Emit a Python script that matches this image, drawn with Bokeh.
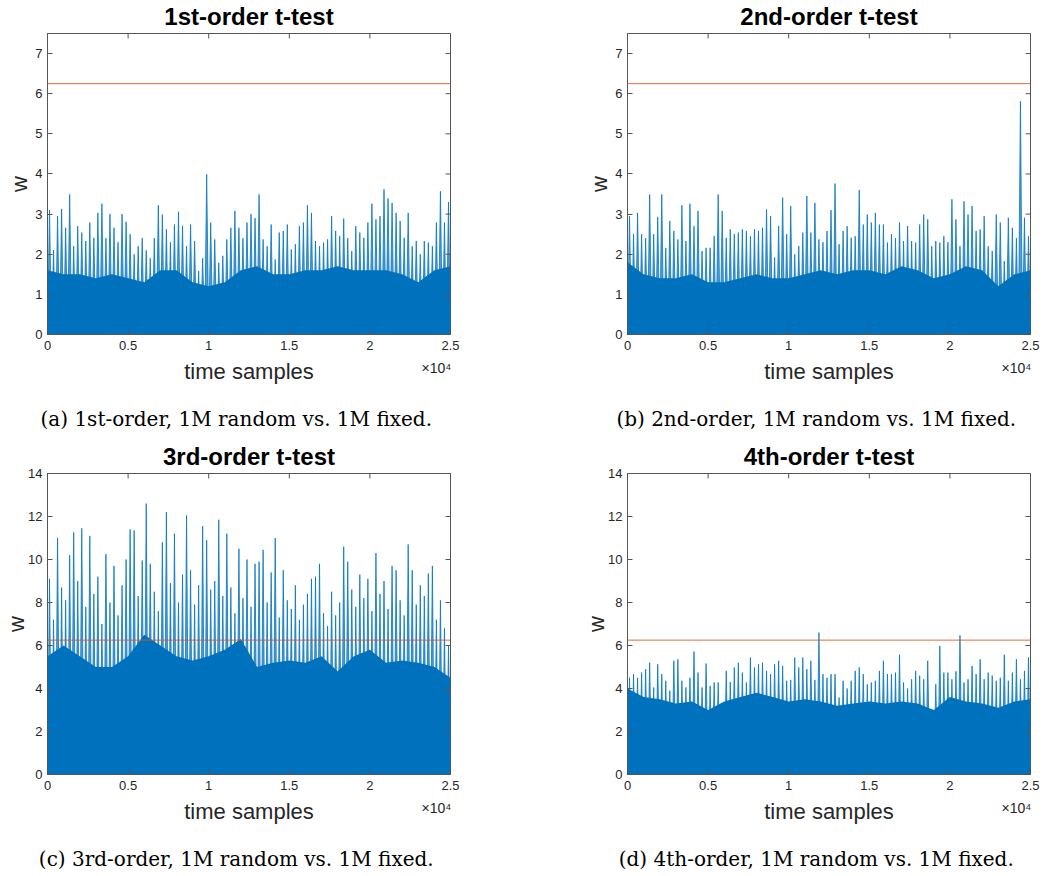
import numpy as np
from bokeh.plotting import figure
from bokeh.layouts import column, row
from bokeh.models import Range1d, FixedTicker, Span, LinearAxis
from bokeh.embed import file_html
from bokeh.resources import INLINE

# ---------------- data ----------------
n_samples = 25000
bin_width = 250            # peak values are given per 250-sample bin
body_step = 1000           # dense-body envelope is given every 1000 samples

peaks_1st = [3.1, 2.1, 2.95, 3.13, 2.66, 3.49, 2.2, 2.7, 2.54, 2.33,
             2.79, 2.41, 3.03, 3.26, 2.4, 3.0, 2.66, 2.3, 3.0, 2.81,
             2.5, 2.0, 2.2, 2.4, 2.1, 1.9, 2.4, 3.22, 2.99, 2.62,
             2.3, 2.74, 3.06, 2.7, 2.2, 2.74, 2.33, 1.58, 1.9, 3.99,
             2.79, 2.37, 1.79, 1.96, 2.37, 2.66, 3.08, 2.66, 2.4, 2.79,
             3.0, 2.9, 3.49, 2.37, 2.2, 2.74, 1.87, 2.54, 2.58, 2.74,
             2.12, 2.25, 2.7, 2.79, 3.22, 3.03, 2.33, 2.2, 2.29, 2.37,
             2.95, 2.58, 2.45, 2.89, 2.4, 2.08, 2.7, 2.54, 2.41, 2.79,
             3.26, 2.87, 2.95, 3.62, 3.39, 3.28, 3.03, 2.83, 2.41, 3.03,
             2.2, 2.33, 2.0, 2.33, 2.29, 2.2, 2.79, 3.57, 2.79, 3.3]
body_1st = [1.6, 1.5, 1.5, 1.4, 1.5, 1.4, 1.3, 1.6, 1.6, 1.3, 1.2, 1.3, 1.6,
            1.7, 1.5, 1.5, 1.6, 1.6, 1.7, 1.6, 1.6, 1.6, 1.5, 1.3, 1.6, 1.7]

peaks_2nd = [2.95, 2.5, 3.03, 2.5, 2.4, 3.49, 2.5, 2.93, 3.49, 2.16,
             2.83, 2.58, 2.37, 3.22, 2.33, 3.26, 2.7, 3.08, 2.08, 2.16,
             2.16, 2.45, 3.49, 3.08, 2.41, 2.62, 2.5, 2.54, 2.62, 2.58,
             2.45, 2.62, 2.58, 2.66, 3.12, 2.95, 1.92, 2.7, 3.41, 2.5,
             3.2, 2.0, 2.2, 2.54, 3.45, 2.54, 3.28, 2.37, 2.3, 2.58,
             3.1, 3.76, 2.25, 2.58, 2.7, 2.41, 2.45, 3.6, 2.74, 2.99,
             2.79, 3.03, 2.74, 2.74, 2.29, 2.5, 2.4, 2.79, 2.33, 2.7,
             2.33, 2.29, 2.74, 2.99, 2.87, 2.2, 2.33, 2.29, 2.45, 2.3,
             3.37, 2.87, 2.2, 3.32, 2.99, 3.2, 2.58, 2.62, 2.95, 2.2,
             2.08, 2.99, 2.79, 1.83, 2.91, 2.66, 2.4, 5.81, 2.91, 2.45]
body_2nd = [1.8, 1.5, 1.4, 1.4, 1.5, 1.3, 1.3, 1.4, 1.5, 1.4, 1.4, 1.5, 1.6,
            1.5, 1.6, 1.6, 1.5, 1.7, 1.6, 1.4, 1.5, 1.7, 1.6, 1.2, 1.5, 1.6]

peaks_3rd = [9.1, 7.2, 11.0, 8.7, 8.1, 10.2, 11.26, 9.0, 11.45, 7.8,
             11.1, 8.4, 9.2, 7.0, 10.25, 8.0, 9.7, 7.4, 8.8, 10.0,
             11.4, 11.35, 8.3, 9.95, 12.6, 9.8, 8.5, 7.6, 10.8, 12.2,
             8.9, 11.2, 8.0, 9.3, 12.05, 9.5, 7.9, 8.8, 11.55, 10.9,
             8.6, 9.0, 11.85, 8.3, 11.2, 8.7, 7.5, 10.5, 8.2, 10.0,
             7.8, 9.8, 9.9, 10.45, 8.0, 9.4, 11.0, 7.3, 9.5, 8.1,
             7.7, 8.8, 7.2, 7.9, 8.4, 9.1, 9.2, 9.8, 7.5, 6.9,
             8.5, 7.4, 8.0, 10.6, 9.9, 8.6, 7.8, 9.3, 8.2, 9.1,
             7.6, 10.3, 8.4, 9.0, 7.7, 9.7, 9.5, 8.1, 7.4, 10.7,
             9.5, 7.9, 8.8, 8.3, 9.35, 9.7, 7.2, 8.1, 6.8, 6.0]
body_3rd = [5.5, 6.0, 5.5, 5.0, 5.0, 5.5, 6.5, 6.0, 5.5, 5.3, 5.5, 5.8, 6.3,
            5.0, 5.2, 5.3, 5.2, 5.5, 4.8, 5.5, 5.8, 5.2, 5.3, 5.2, 5.0, 4.5]

peaks_4th = [4.5, 4.67, 4.5, 4.74, 4.9, 5.2, 4.05, 5.13, 4.67, 4.36,
             3.9, 5.29, 5.36, 4.36, 4.05, 4.5, 5.72, 4.74, 4.05, 5.16,
             4.12, 4.28, 4.28, 3.1, 4.82, 4.3, 4.98, 5.2, 4.74, 4.28,
             5.44, 4.98, 5.13, 5.2, 4.82, 4.67, 5.13, 5.29, 5.05, 4.36,
             4.4, 5.44, 4.98, 5.44, 4.9, 5.29, 4.4, 6.6, 4.67, 4.5,
             4.67, 4.67, 3.58, 4.36, 4.0, 4.36, 4.82, 4.98, 4.67, 4.2,
             4.28, 4.36, 4.82, 5.29, 4.67, 4.67, 4.74, 5.57, 4.28, 4.0,
             4.43, 4.82, 4.6, 4.43, 5.29, 3.04, 4.2, 5.98, 4.74, 4.74,
             4.43, 4.8, 6.47, 4.28, 4.43, 5.05, 4.67, 5.36, 4.43, 4.74,
             4.6, 4.36, 4.5, 5.57, 4.36, 4.74, 5.36, 4.43, 4.82, 5.44]
body_4th = [4.0, 3.6, 3.5, 3.3, 3.4, 3.0, 3.4, 3.6, 3.8, 3.6, 3.4, 3.5, 3.4,
            3.2, 3.3, 3.4, 3.3, 3.4, 3.3, 3.0, 3.6, 3.4, 3.3, 3.1, 3.4, 3.5]

threshold = 6.25

titles = ["1st-order t-test", "2nd-order t-test", "3rd-order t-test", "4th-order t-test"]
captions = ["(a) 1st-order, 1M random vs. 1M fixed.",
            "(b) 2nd-order, 1M random vs. 1M fixed.",
            "(c) 3rd-order, 1M random vs. 1M fixed.",
            "(d) 4th-order, 1M random vs. 1M fixed."]

xtick_vals = [0, 5000, 10000, 15000, 20000, 25000]
xtick_labels = ["0", "0.5", "1", "1.5", "2", "2.5"]
x_exponent = "\u00d710\u2074"
yticks_top = [0, 1, 2, 3, 4, 5, 6, 7]
yticks_bottom = [0, 2, 4, 6, 8, 10, 12, 14]
ymax_top = 7.5
ymax_bottom = 14

# ---------------- styling ----------------
BLUE = "#0072BD"
ORANGE = "#D95319"
AXC = "#555555"
TXT = "#262626"
SANS = "Liberation Sans"
SERIF = "DejaVu Serif"
EXP_POS = 24130        # where the centred "x10^4" label ends flush with the box
CAP_PAD = "\u2007\u2007"  # shifts the centred caption slightly to the left


def bare_axis(ticks):
    ax = LinearAxis(ticker=FixedTicker(ticks=ticks))
    ax.axis_line_color = None
    ax.major_tick_line_color = None
    ax.minor_tick_line_color = None
    ax.major_tick_in = 0
    ax.major_tick_out = 0
    return ax


def make_panel(peaks, body, ymax, yticks, title, caption,
               bl, br, bt, bb, ylab_standoff):
    p = figure(frame_width=403, frame_height=301,
               min_border_left=bl, min_border_right=br,
               min_border_top=bt, min_border_bottom=bb,
               x_range=Range1d(0, n_samples), y_range=Range1d(0, ymax),
               output_backend="svg", toolbar_location=None, tools="",
               background_fill_color="white", border_fill_color="white")
    p.grid.visible = False
    p.outline_line_color = AXC
    p.outline_line_width = 1

    # title
    p.title.text = title
    p.title.align = "center"
    p.title.vertical_align = "top"
    p.title.text_font = SANS
    p.title.text_font_style = "bold"
    p.title.text_font_size = "24px"
    p.title.text_color = "black"
    p.title.standoff = 3

    # spiky trace: each 250-sample bin rises to its peak and falls back
    tx, ty = [], []
    for i, pk in enumerate(peaks):
        tx += [bin_width * i, bin_width * i + bin_width / 2]
        ty += [0, pk]
    tx.append(bin_width * len(peaks))
    ty.append(0)
    p.varea(x=tx, y1=[0] * len(tx), y2=ty, fill_color=BLUE, fill_alpha=0.68)
    p.line(x=tx, y=ty, line_color=BLUE, line_width=0.9, line_alpha=0.85)

    # dense body of the trace
    bx = [i * body_step for i in range(len(body))]
    p.varea(x=bx, y1=[0] * len(body), y2=body, fill_color=BLUE, fill_alpha=1.0)

    p.add_layout(Span(location=threshold, dimension="width",
                      line_color=ORANGE, line_width=1, line_alpha=0.85))

    # inward ticks on the top and right edges of the box
    p.ray(x=xtick_vals, y=[ymax] * len(xtick_vals), length=5,
          length_units="screen", angle=-np.pi / 2, line_color=AXC, line_width=1)
    p.ray(x=[n_samples] * len(yticks), y=yticks, length=5,
          length_units="screen", angle=np.pi, line_color=AXC, line_width=1)

    # axes
    for ax in (p.xaxis[0], p.yaxis[0]):
        ax.axis_line_color = AXC
        ax.major_tick_line_color = AXC
        ax.major_tick_in = 5
        ax.major_tick_out = 0
        ax.minor_tick_line_color = None
        ax.major_label_text_font = SANS
        ax.major_label_text_font_size = "13px"
        ax.major_label_text_color = TXT
        ax.axis_label_text_font = SANS
        ax.axis_label_text_font_size = "22px"
        ax.axis_label_text_font_style = "normal"
        ax.axis_label_text_color = TXT
    p.xaxis[0].ticker = FixedTicker(ticks=xtick_vals)
    p.xaxis[0].major_label_overrides = {v: l for v, l in zip(xtick_vals, xtick_labels)}
    p.xaxis[0].major_label_standoff = 6
    p.yaxis[0].ticker = FixedTicker(ticks=yticks)
    p.yaxis[0].major_label_standoff = 5
    p.yaxis[0].axis_label = "w"
    p.yaxis[0].axis_label_standoff = ylab_standoff

    # second (tickless) x axis: carries the x10^4 multiplier and the x label
    ax2 = bare_axis([EXP_POS])
    ax2.major_label_overrides = {EXP_POS: x_exponent}
    ax2.major_label_standoff = 7
    ax2.major_label_text_font = SANS
    ax2.major_label_text_font_size = "14px"
    ax2.major_label_text_color = TXT
    ax2.axis_label = "time samples"
    ax2.axis_label_standoff = -20
    ax2.axis_label_text_font = SANS
    ax2.axis_label_text_font_size = "22px"
    ax2.axis_label_text_font_style = "normal"
    ax2.axis_label_text_color = TXT
    p.add_layout(ax2, "below")

    # third (bare) x axis: carries the sub-figure caption
    ax3 = bare_axis([])
    ax3.axis_label = caption + CAP_PAD
    ax3.axis_label_standoff = 20
    ax3.axis_label_text_font = SERIF
    ax3.axis_label_text_font_size = "20px"
    ax3.axis_label_text_font_style = "normal"
    ax3.axis_label_text_color = "black"
    p.add_layout(ax3, "below")
    return p


pa = make_panel(peaks_1st, body_1st, ymax_top, yticks_top, titles[0],
                captions[0], 47, 71, 33, 105, 0)
pb = make_panel(peaks_2nd, body_2nd, ymax_top, yticks_top, titles[1],
                captions[1], 106, 13, 33, 105, 0)
pc = make_panel(peaks_3rd, body_3rd, ymax_bottom, yticks_bottom, titles[2],
                captions[2], 47, 71, 34, 102, -4)
pd = make_panel(peaks_4th, body_4th, ymax_bottom, yticks_bottom, titles[3],
                captions[3], 106, 13, 34, 102, -4)

layout = column(row(pa, pb), row(pc, pd))
open("out.html", "w").write(file_html(layout, INLINE))
